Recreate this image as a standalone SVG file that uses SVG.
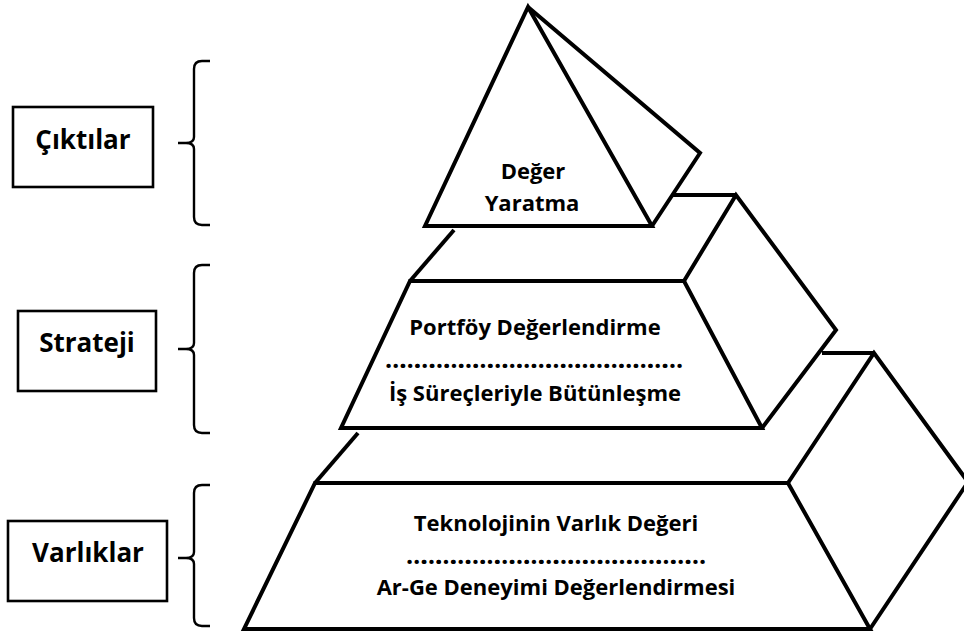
<svg xmlns="http://www.w3.org/2000/svg" width="964" height="633" viewBox="0 0 964 633">
  <style>
    .edge { fill: none; stroke: #000; stroke-width: 4; stroke-linejoin: miter; stroke-linecap: butt; }
    .box { fill: #fff; stroke: #000; stroke-width: 2.6; }
    .brace { fill: none; stroke: #000; stroke-width: 2.4; stroke-linejoin: round; }
    .lbl { font-family: "Open Sans", "Noto Sans", "DejaVu Sans", sans-serif; font-weight: bold; fill: #000; text-anchor: middle; }
    .side { font-size: 26px; }
    .inner { font-size: 22px; }
    .dots { font-size: 25px; }
  </style>
  <rect width="964" height="633" fill="#fff"/>

  <g id="level-varliklar">
    <polyline class="edge" points="315,483 358,433"/>
    <polyline class="edge" points="822,353 874,353"/>
    <polygon class="edge" points="315,483 788,483 870,629 244,629"/>
    <polyline class="edge" points="788,483 874,353 968,482 870,629"/>
    <text class="lbl inner" x="556" y="531">Teknolojinin Varlık Değeri</text>
    <text class="lbl dots" x="556" y="564" textLength="300" lengthAdjust="spacing">……………………………………………………</text>
    <text class="lbl inner" x="556" y="595">Ar-Ge Deneyimi Değerlendirmesi</text>
  </g>

  <g id="level-strateji">
    <polyline class="edge" points="410,281 454,230"/>
    <polyline class="edge" points="673,195 736,195"/>
    <polygon class="edge" points="410,281 684,281 762,428 341,428"/>
    <polyline class="edge" points="684,281 736,195 836,330 762,428"/>
    <text class="lbl inner" x="535" y="335">Portföy Değerlendirme</text>
    <text class="lbl dots" x="534" y="368" textLength="298" lengthAdjust="spacing">……………………………………………………</text>
    <text class="lbl inner" x="535" y="401">İş Süreçleriyle Bütünleşme</text>
  </g>

  <g id="level-ciktilar">
    <polygon class="edge" points="528,7 652,226 425,226"/>
    <polyline class="edge" points="528,7 700,153 652,226"/>
    <text class="lbl inner" x="533" y="179">Değer</text>
    <text class="lbl inner" x="532" y="211">Yaratma</text>
  </g>

  <g id="label-ciktilar">
    <rect class="box" x="13" y="107" width="140" height="80"/>
    <text class="lbl side" x="83" y="149">Çıktılar</text>
  </g>
  <g id="label-strateji">
    <rect class="box" x="18" y="311" width="138" height="80"/>
    <text class="lbl side" x="87" y="352">Strateji</text>
  </g>
  <g id="label-varliklar">
    <rect class="box" x="8" y="521" width="159" height="80"/>
    <text class="lbl side" x="88" y="562">Varlıklar</text>
  </g>

  <g id="connectors">
    <path class="brace" d="M210,61 H202 Q194,61 194,69 V137 Q194,143 186,143 H178 M186,143 Q194,143 194,149 V217 Q194,225 202,225 H210"/>
    <path class="brace" d="M210,265 H202 Q194,265 194,273 V343 Q194,349 186,349 H178 M186,349 Q194,349 194,355 V425 Q194,433 202,433 H210"/>
    <path class="brace" d="M210,485 H202 Q194,485 194,493 V552 Q194,558 186,558 H178 M186,558 Q194,558 194,564 V618 Q194,626 202,626 H210"/>
  </g>
</svg>
